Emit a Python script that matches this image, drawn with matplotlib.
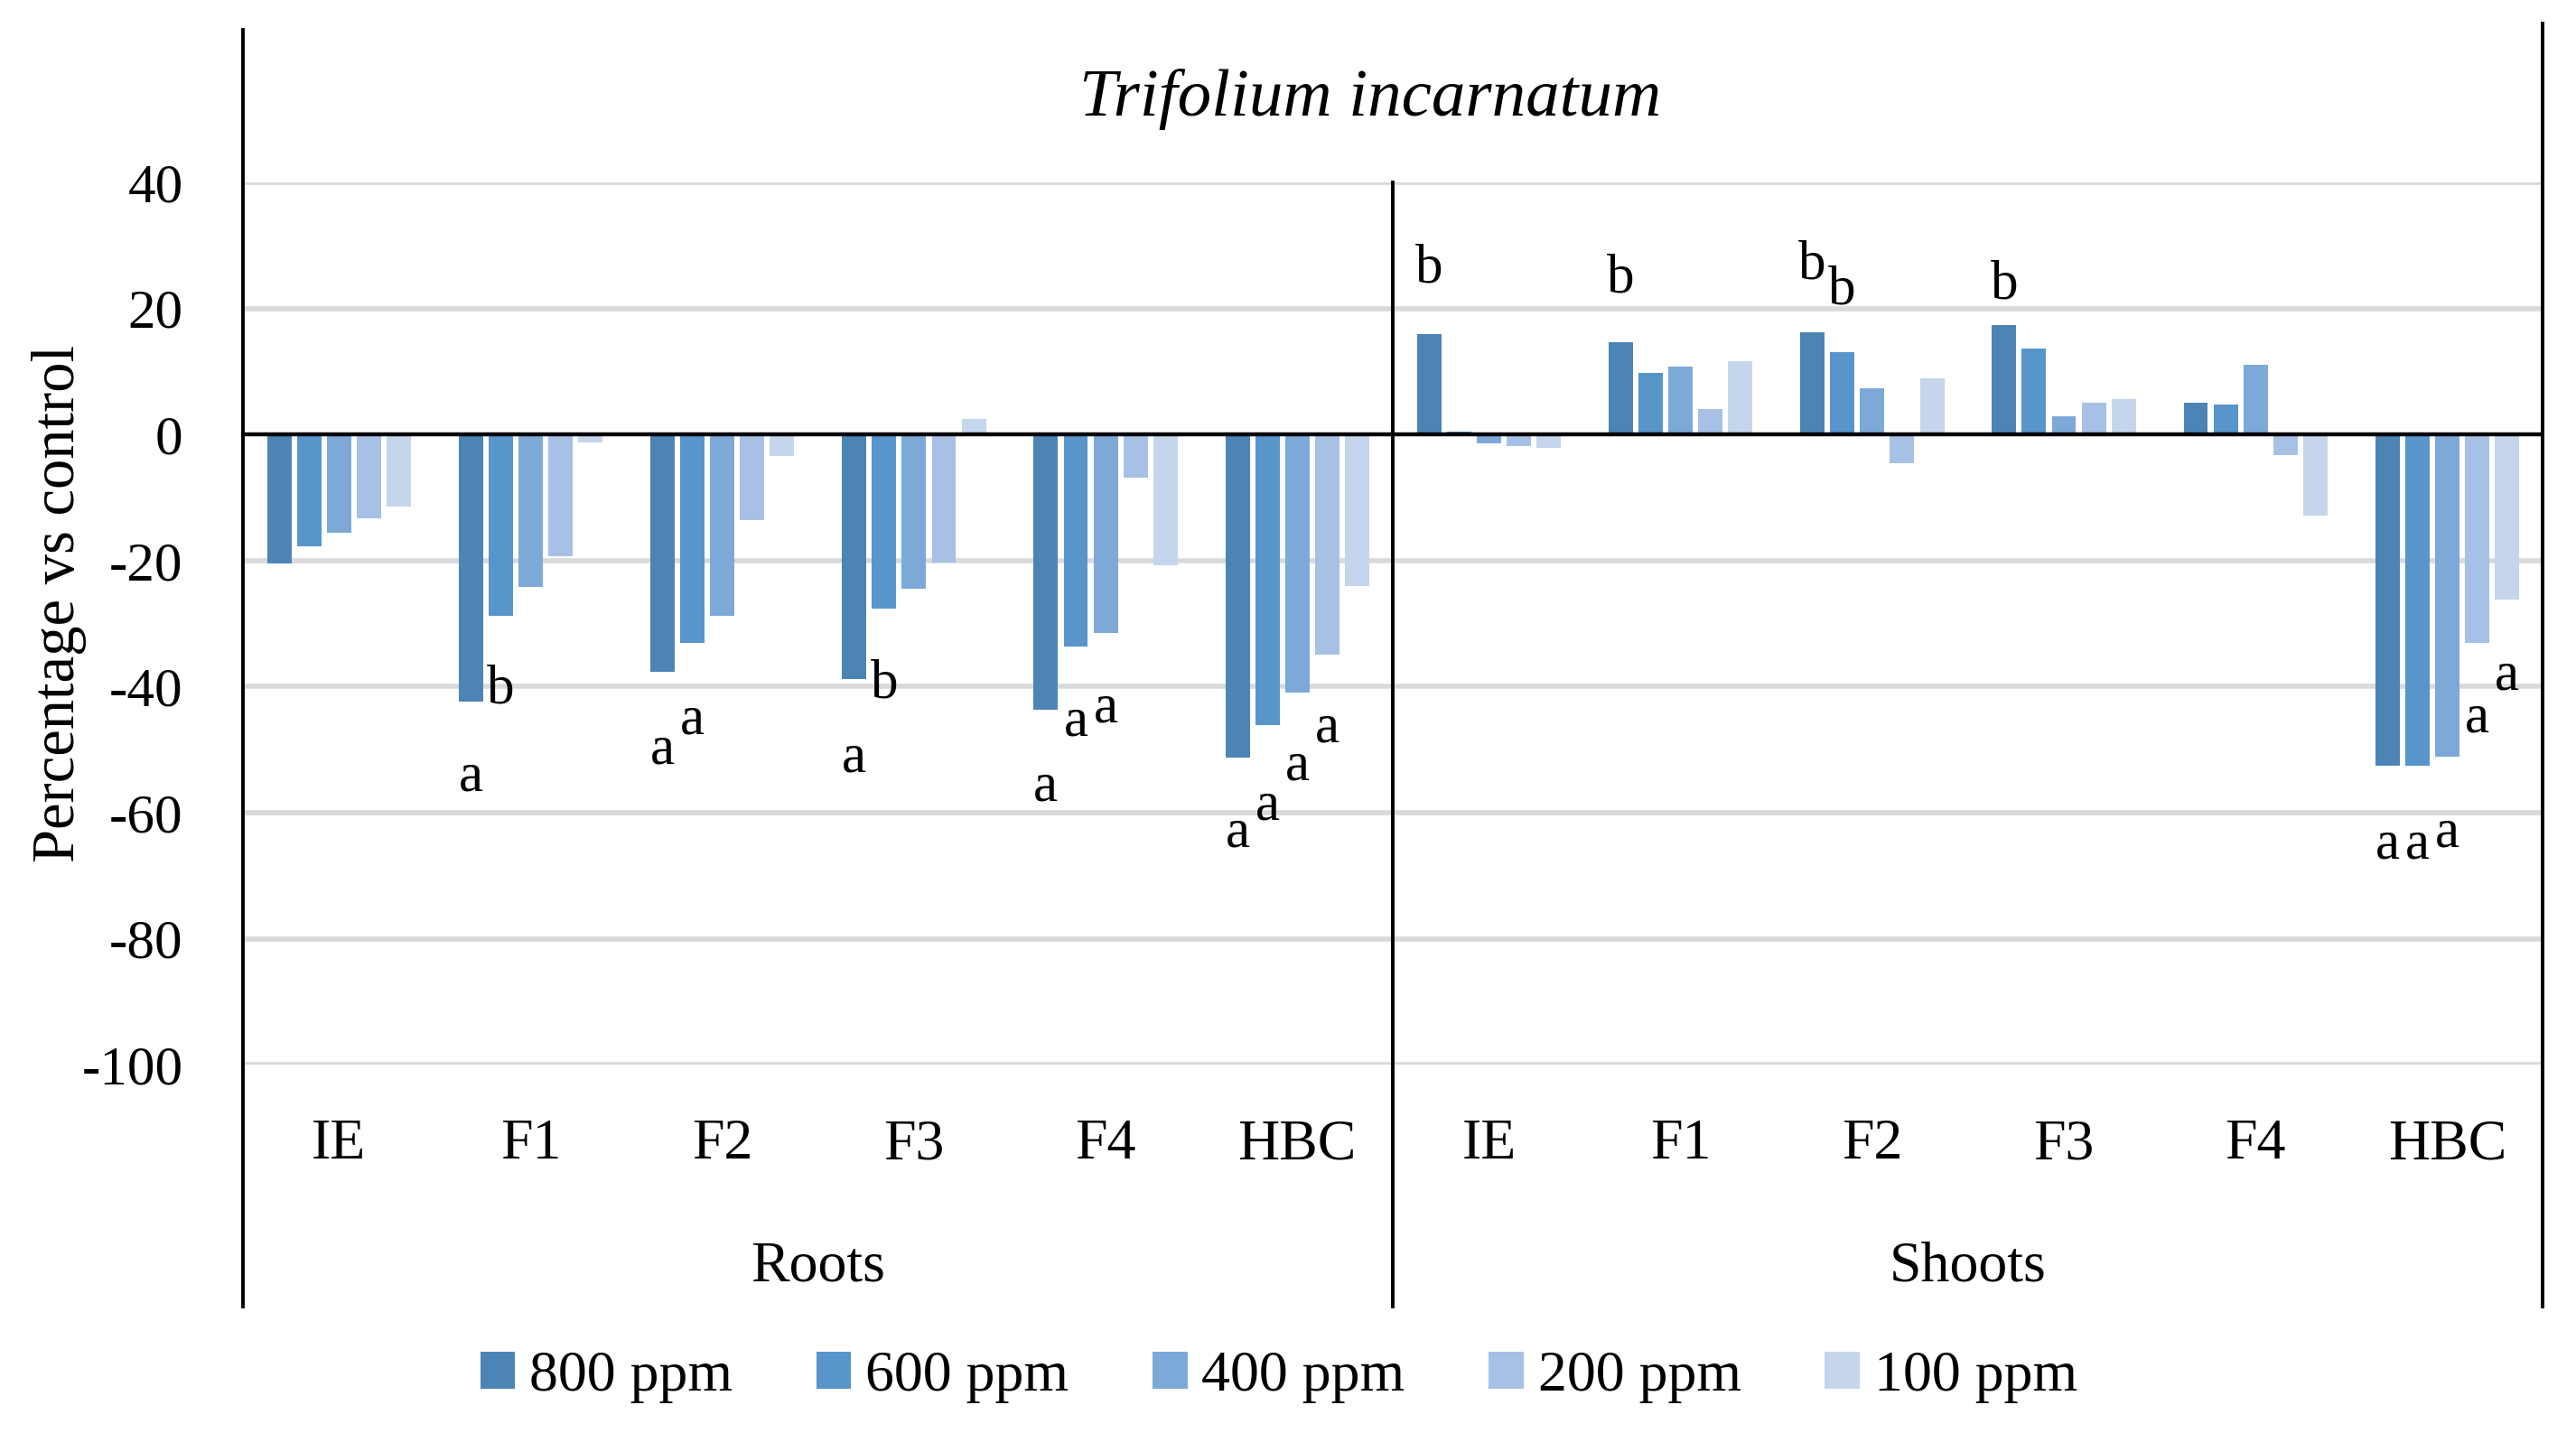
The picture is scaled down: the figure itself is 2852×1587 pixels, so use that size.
import numpy as np
from matplotlib import pyplot as plt
from matplotlib.patches import Patch

plt.rcParams['font.family'] = ['Liberation Serif', 'DejaVu Serif']
plt.rcParams['axes.unicode_minus'] = False

# Data
groups = ["IE", "F1", "F2", "F3", "F4", "HBC"]
parts = ["Roots", "Shoots"]
series = ["800 ppm", "600 ppm", "400 ppm", "200 ppm", "100 ppm"]
colors = ["#4D84B6", "#5795CB", "#7DA9D9", "#A6C1E5", "#C4D5EC"]

# one row per category (Roots IE..HBC, Shoots IE..HBC), one column per dose
values = np.array([
    [-20.4, -17.7, -15.6, -13.3, -11.4],
    [-42.4, -28.8, -24.2, -19.3, -1.2],
    [-37.7, -33.0, -28.8, -13.6, -3.4],
    [-38.8, -27.6, -24.5, -20.3, 2.5],
    [-43.7, -33.6, -31.5, -6.8, -20.7],
    [-51.3, -46.1, -40.9, -34.9, -24.0],
    [16.0, 0.4, -1.4, -1.8, -2.1],
    [14.6, 9.8, 10.8, 4.1, 11.7],
    [16.2, 13.0, 7.3, -4.5, 8.9],
    [17.3, 13.7, 2.9, 5.0, 5.6],
    [5.1, 4.7, 11.0, -3.2, -12.9],
    [-52.6, -52.5, -51.1, -33.1, -26.2],
])

# significance letters: (category index, series index, letter, y position)
letters = [
    (1, 0, "a", -54.4), (1, 1, "b", -40.4),
    (2, 0, "a", -50.0), (2, 1, "a", -45.3),
    (3, 0, "a", -51.3), (3, 1, "b", -39.6),
    (4, 0, "a", -56.0), (4, 1, "a", -45.6), (4, 2, "a", -43.5),
    (5, 0, "a", -63.3), (5, 1, "a", -58.9), (5, 2, "a", -52.6), (5, 3, "a", -46.6),
    (6, 0, "b", 26.3),
    (7, 0, "b", 24.7),
    (8, 0, "b", 26.8), (8, 1, "b", 22.9),
    (9, 0, "b", 23.7),
    (11, 0, "a", -65.1), (11, 1, "a", -65.1), (11, 2, "a", -63.3),
    (11, 3, "a", -45.0), (11, 4, "a", -38.3),
]

yticks = [40, 20, 0, -20, -40, -60, -80, -100]

fs = 22
fig = plt.figure(figsize=(14.26, 7.935), dpi=200)
ax = fig.add_axes([0.0944, 0.2569, 0.8928, 0.6158])

n_cat = len(parts) * len(groups)
x = np.arange(n_cat)
pitch = 0.156
width = 0.127

# gridlines
for t in yticks:
    if t != 0:
        ax.axhline(t, color="#D9D9D9", lw=2.0, zorder=0)

for j, (name, c) in enumerate(zip(series, colors)):
    ax.bar(x + (j - 2) * pitch, values[:, j], width=width, color=c, zorder=2, label=name)

ax.axhline(0, color="black", lw=1.6, zorder=3)

for i, j, letter, yy in letters:
    ax.text(i + (j - 2) * pitch, yy, letter, ha="center", va="center", fontsize=fs, zorder=4)

ax.set_xlim(-0.5, n_cat - 0.5)
ax.set_ylim(-100, 40)
for s in ax.spines.values():
    s.set_visible(False)
ax.set_xticks([])
ax.set_yticks(yticks)
ax.set_yticklabels([str(t) for t in yticks], fontsize=fs)
ax.tick_params(axis="y", length=0, pad=24)

# multi-level category axis lines
ax.axvline(-0.5, ymin=-0.274, ymax=1.173, color="black", lw=1.4, clip_on=False)
ax.axvline(5.5, ymin=-0.274, ymax=1.0, color="black", lw=1.4, clip_on=False)
ax.axvline(n_cat - 0.5, ymin=-0.274, ymax=1.18, color="black", lw=1.4, clip_on=False)

tr = ax.get_xaxis_transform()
for k, part in enumerate(parts):
    for g, grp in enumerate(groups):
        ax.text(k * len(groups) + g, -0.091, grp, transform=tr, ha="center", va="center", fontsize=fs + 1)
    ax.text(k * len(groups) + 2.5, -0.229, part, transform=tr, ha="center", va="center", fontsize=fs + 1)

ax.text(5.38, 1.094, "Trifolium incarnatum", transform=tr, ha="center", va="center",
        fontsize=fs + 5, style="italic")

fig.text(0.023, 0.579, "Percentage vs control", rotation=90, ha="center", va="center", fontsize=fs + 2)

handles = [Patch(facecolor=c, edgecolor="none") for c in colors]
fig.legend(handles, series, loc="center", bbox_to_anchor=(0.4965, 0.039), ncol=5, frameon=False,
           fontsize=fs + 1, handlelength=0.6, handleheight=0.6, handletextpad=0.25, columnspacing=1.45)

fig.savefig("out.png", dpi=200)
